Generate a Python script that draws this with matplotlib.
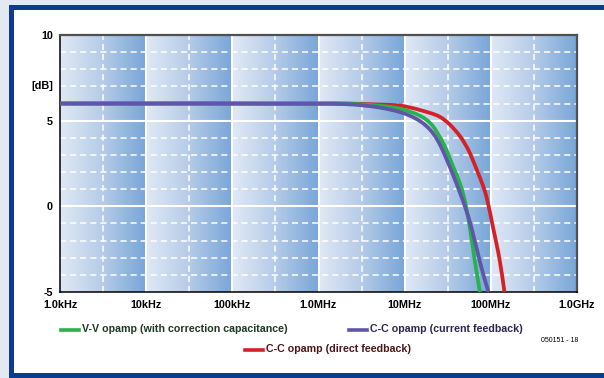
import numpy as np
import matplotlib
matplotlib.use("Agg")
import matplotlib.pyplot as plt
from matplotlib.patches import Rectangle, PathPatch
from matplotlib.path import Path
from matplotlib.lines import Line2D
from matplotlib.colors import LinearSegmentedColormap
from matplotlib.ticker import NullLocator
from matplotlib import font_manager

# ---- frequency response data (Hz, dB) ----
vv_freq = [1e3, 1e4, 1e5, 1e6, 2.32e6, 5.17e6, 8.83e6, 15.1e6, 21.5e6, 25.7e6,
           30.7e6, 36.7e6, 43.9e6, 48.2e6, 57.3e6, 65.5e6, 74.8e6]
vv_gain = [6.0, 6.0, 6.0, 6.0, 5.98, 5.87, 5.70, 5.28, 4.65, 4.03,
           3.27, 2.29, 1.33, 0.64, -1.30, -3.25, -5.0]

cc_cur_freq = [1e3, 1e4, 1e5, 1e6, 2.32e6, 5.17e6, 8.83e6, 15.1e6, 21.5e6, 25.7e6,
               30.7e6, 36.7e6, 43.9e6, 52.4e6, 60.0e6, 74.8e6, 93.9e6]
cc_cur_gain = [6.0, 6.0, 6.0, 5.99, 5.95, 5.76, 5.50, 4.97, 4.24, 3.60,
               2.74, 1.80, 0.78, -0.30, -1.30, -3.25, -5.0]

cc_dir_freq = [1e3, 1e4, 1e5, 1e6, 2.32e6, 5.17e6, 8.83e6, 15.1e6, 20e6, 25.7e6,
               33.6e6, 43.9e6, 57.3e6, 71.5e6, 89.5e6, 106.8e6, 127.7e6, 144e6]
cc_dir_gain = [6.0, 6.0, 6.0, 6.0, 6.0, 5.94, 5.88, 5.62, 5.44, 5.22,
               4.76, 4.09, 3.09, 1.91, 0.50, -1.30, -3.25, -5.0]

x_ticks = [1e3, 1e4, 1e5, 1e6, 1e7, 1e8, 1e9]
x_tick_labels = ["1.0kHz", "10kHz", "100kHz", "1.0MHz", "10MHz", "100MHz", "1.0GHz"]
y_ticks = [-5, 0, 5, 10]
y_tick_labels = ["-5", "0", "5", "10"]

series_labels = ["V-V opamp (with correction capacitance)",
                 "C-C opamp (current feedback)",
                 "C-C opamp (direct feedback)"]


def pick_family(names):
    for name in names:
        try:
            font_manager.findfont(font_manager.FontProperties(family=name),
                                  fallback_to_default=False)
            return name
        except Exception:
            pass
    return "DejaVu Sans"


def smooth_path(freq, gain):
    """Natural cubic spline through the points, expressed as Bezier segments
    in log-frequency space so it follows the log axis."""
    x = np.log10(np.asarray(freq, float))
    y = np.asarray(gain, float)
    n = len(x) - 1
    h = np.diff(x)
    d = np.diff(y) / h
    # second derivatives (natural end conditions)
    A = np.zeros((n + 1, n + 1))
    b = np.zeros(n + 1)
    A[0, 0] = A[n, n] = 1.0
    for i in range(1, n):
        A[i, i - 1] = h[i - 1]
        A[i, i] = 2 * (h[i - 1] + h[i])
        A[i, i + 1] = h[i]
        b[i] = 6 * (d[i] - d[i - 1])
    M = np.linalg.solve(A, b)
    verts = [(x[0], y[0])]
    codes = [Path.MOVETO]
    for k in range(n):
        m0 = d[k] - h[k] * (2 * M[k] + M[k + 1]) / 6
        m1 = d[k] + h[k] * (M[k] + 2 * M[k + 1]) / 6
        verts += [(x[k] + h[k] / 3, y[k] + m0 * h[k] / 3),
                  (x[k + 1] - h[k] / 3, y[k + 1] - m1 * h[k] / 3),
                  (x[k + 1], y[k + 1])]
        codes += [Path.CURVE4] * 3
    verts = np.array(verts)
    verts[:, 0] = 10 ** verts[:, 0]
    return Path(verts, codes)


narrow = pick_family(["Liberation Sans Narrow", "Liberation Sans", "Arial"])
sans = pick_family(["Liberation Sans", "Arial"])

W, H = 604, 378
fig = plt.figure(figsize=(W / 100, H / 100), dpi=100, facecolor="#e3e9f3")


def fx(x):
    return x / W


def fy(y):
    return 1 - y / H


# blue frame and white panel
fig.patches.append(Rectangle((fx(9), 0), 1, fy(5), transform=fig.transFigure,
                             facecolor="#0d3b94", edgecolor="none", zorder=-3))
fig.patches.append(Rectangle((fx(14), fy(373)), 1, fy(10) - fy(373),
                             transform=fig.transFigure, facecolor="white",
                             edgecolor="none", zorder=-2))

rect = [fx(60), fy(292), fx(577) - fx(60), fy(35) - fy(292)]

# per-decade gradient panels
bg = fig.add_axes(rect, zorder=0)
ramp = np.linspace(0, 1, 200)
img = np.tile(ramp, len(x_ticks) - 1)[None, :]
cmap = LinearSegmentedColormap.from_list("panel", ["#e0e9f5", "#b5cbe8", "#78a6d8"])
bg.imshow(img, extent=[0, 1, 0, 1], aspect="auto", cmap=cmap,
          interpolation="bilinear")
bg.axis("off")

ax = fig.add_axes(rect, zorder=1)
ax.set_facecolor("none")
ax.set_xscale("log")
ax.set_xlim(x_ticks[0], x_ticks[-1])
ax.set_ylim(-5, 10)

dash = (0, (4, 2.6))
for d in x_ticks[1:-1]:
    ax.axvline(d, color="white", lw=1.5, zorder=1)
for d in x_ticks[:-1]:
    ax.axvline(d * 10 ** 0.5, color="white", lw=1.1, ls=dash, zorder=1)
for v in range(-4, 10):
    if v % 5 == 0:
        ax.axhline(v, color="white", lw=1.5, zorder=1)
    else:
        ax.axhline(v, color="white", lw=1.1, ls=dash, zorder=1)

curves = [
    (cc_dir_freq, cc_dir_gain, "#d62027", 3),
    (vv_freq, vv_gain, "#28b24b", 4),
    (cc_cur_freq, cc_cur_gain, "#5e56a6", 5),
]
for freq, gain, color, z in curves:
    patch = PathPatch(smooth_path(freq, gain), facecolor="none", edgecolor=color,
                      lw=2.7, zorder=z, capstyle="butt", joinstyle="round")
    ax.add_patch(patch)

ax.set_xticks(x_ticks)
ax.set_xticklabels(x_tick_labels)
ax.xaxis.set_minor_locator(NullLocator())
ax.set_yticks(y_ticks)
ax.set_yticklabels(y_tick_labels)
ax.tick_params(axis="both", length=0, labelsize=7.8, colors="black")
ax.tick_params(axis="x", pad=6)
ax.tick_params(axis="y", pad=5)
for lab in ax.get_xticklabels() + ax.get_yticklabels():
    lab.set_fontfamily(narrow)
    lab.set_fontweight("bold")

for side in ("left", "bottom"):
    ax.spines[side].set_color("black")
    ax.spines[side].set_linewidth(1.1)
for side in ("top", "right"):
    ax.spines[side].set_color("#505050")
    ax.spines[side].set_linewidth(1.6)

fig.text(fx(53), fy(86), "[dB]", ha="right", va="center", fontsize=7.8,
         fontweight="bold", family=narrow, color="black")

# legend rows
legend_items = [
    (61, 79, 330, series_labels[0], "#28b24b", "#1f3b22"),
    (349, 367, 330, series_labels[1], "#5e56a6", "#2a2752"),
    (245, 263, 350, series_labels[2], "#d62027", "#4d1619"),
]
for x0, x1, y, text, lc, tc in legend_items:
    fig.add_artist(Line2D([fx(x0), fx(x1)], [fy(y), fy(y)], color=lc, lw=2.6,
                          transform=fig.transFigure))
    fig.text(fx(x1 + 3), fy(y - 0.5), text, ha="left", va="center",
             fontsize=7.7, fontweight="bold", family=sans, color=tc)

fig.text(fx(541), fy(340), "050151 - 18", ha="left", va="center",
         fontsize=5.0, family=sans, color="black")

fig.savefig("out.png", dpi=100, facecolor=fig.get_facecolor())
